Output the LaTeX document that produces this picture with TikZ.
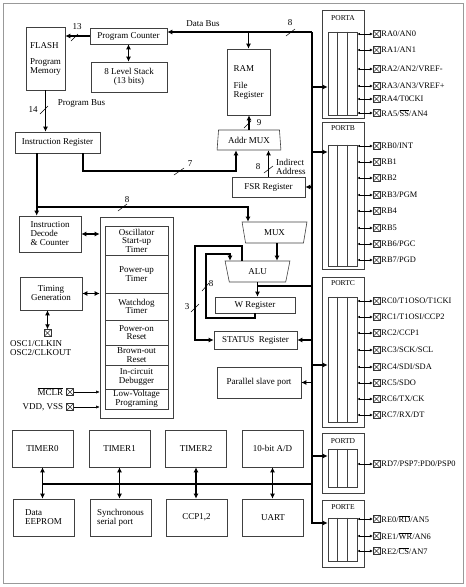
\documentclass[tikz,border=0pt]{standalone}
\usepackage{fontspec}
\setmainfont{Liberation Serif}
\usetikzlibrary{arrows.meta, shapes.geometric}

\tikzset{
    blk/.style={draw=black!75, line width=0.6pt, inner sep=1pt, align=center, font=\fontsize{9}{9}\selectfont},
    timersec/.style={blk, minimum width=63pt, font=\fontsize{9}{8.5}\selectfont},
    periph/.style={blk, minimum width=61pt, minimum height=37pt},
    trap/.style={draw=black!75, line width=0.6pt, trapezium, trapezium stretches=true, inner sep=0pt, font=\fontsize{9}{9}\selectfont},
    portbox/.style={draw=black!75, line width=0.6pt, minimum width=42pt},
    portcol/.style={draw=black!75, line width=0.6pt, minimum width=29pt},
    porttext/.style={inner sep=0pt, font=\fontsize{7.5}{7.5}\selectfont},
    pinbox/.style={draw=black!80, line width=0.5pt, minimum size=7pt, inner sep=0pt,
        path picture={\draw[line width=0.4pt] (path picture bounding box.south west) -- (path picture bounding box.north east)
            (path picture bounding box.north west) -- (path picture bounding box.south east);}},
    pintext/.style={anchor=west, inner sep=1pt, font=\fontsize{8.4}{8.4}\selectfont},
    lbl/.style={inner sep=0pt, font=\fontsize{9}{9}\selectfont},
    bus/.style={line width=1.8pt, -{Latex[length=5pt, width=5pt]}},
    dbus/.style={line width=1.8pt, {Latex[length=5pt, width=5pt]}-{Latex[length=5pt, width=5pt]}},
    busline/.style={line width=1.8pt},
    pinarrow/.style={line width=0.5pt, {Latex[length=2.5pt, width=2.5pt]}-{Latex[length=3pt, width=3pt]}},
    thinarrow/.style={line width=0.5pt, -{Latex[length=3.5pt, width=3pt]}},
    tickmark/.style={line width=0.5pt},
}

\begin{document}
\begin{tikzpicture}[x=1pt, y=-1pt]
        \useasboundingbox (0,0) rectangle (466,587);
        \draw[black!40, line width=0.8pt] (3,3) rectangle (463,583);

        % program memory side
        \node[blk, minimum width=39pt, minimum height=63pt, align=left] (flash) at (45.5,58.5) {FLASH\\[7pt]Program\\Memory};
        \node[blk, minimum width=77pt, minimum height=16pt] (pcount) at (128.5,36) {Program Counter};
        \node[blk, minimum width=76pt, minimum height=30pt] (stack) at (129,77) {8 Level Stack\\(13 bits)};
        \node[blk, minimum width=85pt, minimum height=21pt] (ir) at (57.5,142.5) {Instruction Register};
        \node[blk, minimum width=43pt, minimum height=66pt, align=left] (ram) at (248.5,82) {RAM\\[8pt]File\\Register};
        \node[trap, trapezium left angle=81, trapezium right angle=81, minimum width=64pt, minimum height=20pt] (addrmux) at (249,140) {Addr MUX};
        \node[blk, minimum width=73pt, minimum height=20pt] (fsr) at (268.5,187) {FSR Register};

        \node[blk, minimum width=62pt, minimum height=36pt, align=left] (decode) at (50,234) {Instruction\\Decode\\\& Counter};
        \node[blk, minimum width=62pt, minimum height=33pt] (timing) at (51,293.5) {Timing\\Generation};
        \node[pinbox] (osc) at (47.5,333) {};
        \node[lbl, anchor=north west, align=left] (osct) at (10,340) {OSC1/CLKIN\\OSC2/CLKOUT};
        \node[pinbox] (mclr) at (70,392) {};
        \node[lbl, anchor=east, xshift=-3pt] (mclrt) at (mclr.west) {$\overline{\mbox{MCLR}}$};
        \node[pinbox] (vdd) at (70,407) {};
        \node[lbl, anchor=east, xshift=-3pt] (vddt) at (vdd.west) {VDD, VSS};

        % timers and resets
        \node[blk, minimum width=73pt, minimum height=201pt] (timers) at (136.5,317.5) {};
        \node[timersec, minimum height=29pt] (ost) at (136.5,240.5) {Oscillator\\Start-up\\Timer};
        \node[timersec, minimum height=38pt] (pwrt) at (136.5,274) {Power-up\\Timer};
        \node[timersec, minimum height=27pt] (wdt) at (136.5,306.5) {Watchdog\\Timer};
        \node[timersec, minimum height=25pt] (por) at (136.5,332.5) {Power-on\\Reset};
        \node[timersec, minimum height=20pt] (bor) at (136.5,355) {Brown-out\\Reset};
        \node[timersec, minimum height=24pt] (icd) at (136.5,377) {In-circuit\\Debugger};
        \node[timersec, minimum height=20pt] (lvp) at (136.5,399) {Low-Voltage\\Programing};

        % alu side
        \node[trap, trapezium left angle=102, trapezium right angle=102, minimum width=65pt, minimum height=21pt] (mux) at (274.5,232.5) {MUX};
        \node[trap, trapezium left angle=103, trapezium right angle=103, minimum width=65pt, minimum height=21pt] (alu) at (257.5,271.5) {ALU};
        \node[blk, minimum width=80pt, minimum height=16pt] (wreg) at (255,305) {W Register};
        \node[blk, minimum width=83pt, minimum height=18pt] (status) at (255.5,340) {STATUS\enspace Register};
        \node[blk, minimum width=84pt, minimum height=31pt] (psp) at (259,382.5) {Parallel slave port};

        % peripherals
        \node[periph] (tmr0) at (42.5,448.5) {TIMER0};
        \node[periph] (tmr1) at (119.5,448.5) {TIMER1};
        \node[periph] (tmr2) at (196,448.5) {TIMER2};
        \node[periph] (adc) at (272.5,448.5) {10-bit A/D};
        \node[periph, align=left] (eeprom) at (43.5,517.5) {Data\\EEPROM};
        \node[periph, align=left] (ssp) at (120.5,517.5) {Synchronous\\serial port};
        \node[periph] (ccp) at (196.5,517.5) {CCP1,2};
        \node[periph] (uart) at (273,517.5) {UART};

        % ports
        \node[portbox, minimum height=108pt] (paout) at (343,64) {};
        \node[portbox, minimum height=147pt] (pbout) at (343,195.5) {};
        \node[portbox, minimum height=150pt] (pcout) at (343,352) {};
        \node[portbox, minimum height=60pt] (pdout) at (343,463) {};
        \node[portbox, minimum height=67pt] (peout) at (343,533.5) {};
        \node[porttext] (palbl) at ([yshift=-8pt]paout.north) {PORTA};
        \node[porttext] (pblbl) at ([yshift=-6pt]pbout.north) {PORTB};
        \node[porttext] (pclbl) at ([yshift=-6pt]pcout.north) {PORTC};
        \node[porttext] (pdlbl) at ([yshift=-8pt]pdout.north) {PORTD};
        \node[porttext] (pelbl) at ([yshift=-7pt]peout.north) {PORTE};
        \node[portcol, minimum height=83pt] (pta) at (342.5,73.5) {};
        \node[portcol, minimum height=121pt] (ptb) at (342.5,205.5) {};
        \node[portcol, minimum height=125pt] (ptc) at (342.5,359.5) {};
        \node[portcol, minimum height=38pt] (ptd) at (342.5,468) {};
        \node[portcol, minimum height=43pt] (pte) at (342.5,539.5) {};

        \node[pinbox] (ra0) at (376.5,34) {};
        \node[pinbox] (ra1) at (376.5,50) {};
        \node[pinbox] (ra2) at (376.5,69) {};
        \node[pinbox] (ra3) at (376.5,86) {};
        \node[pinbox] (ra4) at (376.5,99) {};
        \node[pinbox] (ra5) at (376.5,113) {};
        \node[pintext] (ra0t) at (ra0.east) {RA0/AN0};
        \node[pintext] (ra1t) at (ra1.east) {RA1/AN1};
        \node[pintext] (ra2t) at (ra2.east) {RA2/AN2/VREF-};
        \node[pintext] (ra3t) at (ra3.east) {RA3/AN3/VREF+};
        \node[pintext] (ra4t) at (ra4.east) {RA4/T0CKI};
        \node[pintext] (ra5t) at (ra5.east) {RA5/$\overline{\mbox{SS}}$/AN4};

        \node[pinbox] (rb0) at (376.5,146) {};
        \node[pinbox] (rb1) at (376.5,162) {};
        \node[pinbox] (rb2) at (376.5,178) {};
        \node[pinbox] (rb3) at (376.5,195) {};
        \node[pinbox] (rb4) at (376.5,211) {};
        \node[pinbox] (rb5) at (376.5,228) {};
        \node[pinbox] (rb6) at (376.5,244) {};
        \node[pinbox] (rb7) at (376.5,260) {};
        \node[pintext] (rb0t) at (rb0.east) {RB0/INT};
        \node[pintext] (rb1t) at (rb1.east) {RB1};
        \node[pintext] (rb2t) at (rb2.east) {RB2};
        \node[pintext] (rb3t) at (rb3.east) {RB3/PGM};
        \node[pintext] (rb4t) at (rb4.east) {RB4};
        \node[pintext] (rb5t) at (rb5.east) {RB5};
        \node[pintext] (rb6t) at (rb6.east) {RB6/PGC};
        \node[pintext] (rb7t) at (rb7.east) {RB7/PGD};

        \node[pinbox] (rc0) at (376.5,301) {};
        \node[pinbox] (rc1) at (376.5,317) {};
        \node[pinbox] (rc2) at (376.5,333) {};
        \node[pinbox] (rc3) at (376.5,350) {};
        \node[pinbox] (rc4) at (376.5,367) {};
        \node[pinbox] (rc5) at (376.5,383) {};
        \node[pinbox] (rc6) at (376.5,399) {};
        \node[pinbox] (rc7) at (376.5,415) {};
        \node[pintext] (rc0t) at (rc0.east) {RC0/T1OSO/T1CKI};
        \node[pintext] (rc1t) at (rc1.east) {RC1/T1OSI/CCP2};
        \node[pintext] (rc2t) at (rc2.east) {RC2/CCP1};
        \node[pintext] (rc3t) at (rc3.east) {RC3/SCK/SCL};
        \node[pintext] (rc4t) at (rc4.east) {RC4/SDI/SDA};
        \node[pintext] (rc5t) at (rc5.east) {RC5/SDO};
        \node[pintext] (rc6t) at (rc6.east) {RC6/TX/CK};
        \node[pintext] (rc7t) at (rc7.east) {RC7/RX/DT};

        \node[pinbox] (rd) at (376.5,464) {};
        \node[pintext] (rdt) at (rd.east) {RD7/PSP7:PD0/PSP0};

        \node[pinbox] (re0) at (376.5,519) {};
        \node[pinbox] (re1) at (376.5,536) {};
        \node[pinbox] (re2) at (376.5,551) {};
        \node[pintext] (re0t) at (re0.east) {RE0/$\overline{\mbox{RD}}$/AN5};
        \node[pintext] (re1t) at (re1.east) {RE1/$\overline{\mbox{WR}}$/AN6};
        \node[pintext] (re2t) at (re2.east) {RE2/$\overline{\mbox{CS}}$/AN7};

        % port columns
        \draw[black!75, line width=0.6pt] ([xshift=10pt]pta.north west) -- ([xshift=10pt]pta.south west);
        \draw[black!75, line width=0.6pt] ([xshift=-10pt]pta.north east) -- ([xshift=-10pt]pta.south east);
        \draw[black!75, line width=0.6pt] ([xshift=10pt]ptb.north west) -- ([xshift=10pt]ptb.south west);
        \draw[black!75, line width=0.6pt] ([xshift=-10pt]ptb.north east) -- ([xshift=-10pt]ptb.south east);
        \draw[black!75, line width=0.6pt] ([xshift=10pt]ptc.north west) -- ([xshift=10pt]ptc.south west);
        \draw[black!75, line width=0.6pt] ([xshift=-10pt]ptc.north east) -- ([xshift=-10pt]ptc.south east);
        \draw[black!75, line width=0.6pt] ([xshift=10pt]ptd.north west) -- ([xshift=10pt]ptd.south west);
        \draw[black!75, line width=0.6pt] ([xshift=-10pt]ptd.north east) -- ([xshift=-10pt]ptd.south east);
        \draw[black!75, line width=0.6pt] ([xshift=10pt]pte.north west) -- ([xshift=10pt]pte.south west);
        \draw[black!75, line width=0.6pt] ([xshift=-10pt]pte.north east) -- ([xshift=-10pt]pte.south east);

        % data bus
        \coordinate (busTop) at (312,32);
        \coordinate (paIn) at ([yshift=-13.5pt]pta.west);
        \coordinate (pbIn) at ([yshift=53.5pt]ptb.west);
        \coordinate (pcIn) at ([yshift=-5.5pt]ptc.west);
        \coordinate (pdIn) at ([yshift=12pt]ptd.west);
        \coordinate (peIn) at ([yshift=16.5pt]pte.west);
        \draw[bus] (busTop) |- (peIn);
        \draw[bus] (busTop) -- (busTop -| pcount.east);
        \draw[bus] (busTop -| ram.north) -- (ram.north);
        \draw[bus] (paIn -| busTop) -- (paIn);
        \draw[bus] (pbIn -| busTop) -- (pbIn);
        \draw[bus] (pcIn -| busTop) -- (pcIn);
        \draw[bus] (pdIn -| busTop) -- (pdIn);
        \draw[bus] (fsr.east -| busTop) -- (fsr.east);
        \draw[bus] (status.east -| busTop) -- (status.east);
        \draw[bus] (psp.east -| busTop) -- (psp.east);

        % program path
        \draw[bus] (pcount.west) -- (pcount.west -| flash.east);
        \draw[dbus] (pcount.south) -- (pcount.south |- stack.north);
        \draw[bus] (flash.south) -- (flash.south |- ir.north);
        \draw[bus] (addrmux.north) -- (addrmux.north |- ram.south);
        \coordinate (irOut) at ([xshift=-17pt]ir.south east);
        \coordinate (addrIn) at ([xshift=-13pt]addrmux.south);
        \draw[bus] (irOut) -- ++(0,18) -| (addrIn);
        \draw[bus] (fsr.north) -- (fsr.north |- addrmux.south);
        \coordinate (irDec) at ([xshift=22pt]ir.south west);
        \draw[bus] (irDec) -- (irDec |- decode.north);
        \coordinate (j8) at (37,207);
        \coordinate (muxIn) at ([xshift=-26.5pt]mux.north);
        \draw[bus] (j8) -| (muxIn);

        % control
        \draw[dbus] (decode.east) -- (decode.east -| timers.west);
        \draw[dbus] (timing.east) -- (timing.east -| timers.west);
        \draw[dbus] (osc.north |- timing.south) -- (osc.north);
        \draw[thinarrow] (mclr.east) -- (mclr.east -| timers.west);
        \draw[thinarrow] (vdd.east) -- (vdd.east -| timers.west);

        % alu paths
        \coordinate (muxOut) at ([xshift=2.5pt]mux.south);
        \draw[bus] (muxOut) -- (muxOut |- alu.north);
        \draw[bus] (alu.south) -- (alu.south |- wreg.north);
        \coordinate (aluOut) at ([yshift=-4pt]alu.south);
        \draw[busline] (aluOut) -- (aluOut -| busTop);
        \coordinate (aluIn) at ([xshift=-27.5pt]alu.north);
        \draw[bus] (wreg.south) -- ++(0,5) -| (206,254) -| (aluIn);
        \coordinate (aluSt) at ([xshift=-15.5pt]alu.north);
        \draw[bus] (aluSt) -- ++(0,-15) -| (195,340) -- (status.west);

        % peripheral bus
        \coordinate (perBus) at (42.5,484);
        \draw[busline] (perBus) -- (perBus -| busTop);
        \draw[dbus] (tmr0.south) -- (tmr0.south |- eeprom.north);
        \draw[dbus] (tmr1.south) -- (tmr1.south |- ssp.north);
        \draw[dbus] (tmr2.south) -- (tmr2.south |- ccp.north);
        \draw[dbus] (adc.south) -- (adc.south |- uart.north);

        % pins
        \draw[pinarrow] (ra0 -| pta.east) -- (ra0);
        \draw[pinarrow] (ra1 -| pta.east) -- (ra1);
        \draw[pinarrow] (ra2 -| pta.east) -- (ra2);
        \draw[pinarrow] (ra3 -| pta.east) -- (ra3);
        \draw[pinarrow] (ra4 -| pta.east) -- (ra4);
        \draw[pinarrow] (ra5 -| pta.east) -- (ra5);
        \draw[pinarrow] (rb0 -| ptb.east) -- (rb0);
        \draw[pinarrow] (rb1 -| ptb.east) -- (rb1);
        \draw[pinarrow] (rb2 -| ptb.east) -- (rb2);
        \draw[pinarrow] (rb3 -| ptb.east) -- (rb3);
        \draw[pinarrow] (rb4 -| ptb.east) -- (rb4);
        \draw[pinarrow] (rb5 -| ptb.east) -- (rb5);
        \draw[pinarrow] (rb6 -| ptb.east) -- (rb6);
        \draw[pinarrow] (rb7 -| ptb.east) -- (rb7);
        \draw[pinarrow] (rc0 -| ptc.east) -- (rc0);
        \draw[pinarrow] (rc1 -| ptc.east) -- (rc1);
        \draw[pinarrow] (rc2 -| ptc.east) -- (rc2);
        \draw[pinarrow] (rc3 -| ptc.east) -- (rc3);
        \draw[pinarrow] (rc4 -| ptc.east) -- (rc4);
        \draw[pinarrow] (rc5 -| ptc.east) -- (rc5);
        \draw[pinarrow] (rc6 -| ptc.east) -- (rc6);
        \draw[pinarrow] (rc7 -| ptc.east) -- (rc7);
        \draw[pinarrow] (rd -| ptd.east) -- (rd);
        \draw[pinarrow] (re0 -| pte.east) -- (re0);
        \draw[pinarrow] (re1 -| pte.east) -- (re1);
        \draw[pinarrow] (re2 -| pte.east) -- (re2);

        % bus labels
        \node[lbl] (dbuslbl) at (203,24) {Data Bus};
        \node[lbl] (w8a) at (290,23) {8};
        \draw[tickmark] (286,36) -- (295,29);
        \node[lbl] (w13) at (77,27) {13};
        \draw[tickmark] (71,41) -- (78,34);
        \node[lbl] (w14) at (33,110) {14};
        \draw[tickmark] (40,114) -- (48,106);
        \node[lbl] (pbuslbl) at (81.5,104) {Program Bus};
        \node[lbl] (w9) at (259,123) {9};
        \draw[tickmark] (244,128) -- (251,121);
        \node[lbl] (w7) at (190,164) {7};
        \draw[tickmark] (174,175) -- (184,168);
        \node[lbl] (w8b) at (258,167) {8};
        \draw[tickmark] (264,173) -- (273,166);
        \node[lbl, anchor=west, align=left] (indlbl) at (276,167) {Indirect\\Address};
        \node[lbl] (w8c) at (127,200) {8};
        \draw[tickmark] (118,211) -- (127,204);
        \node[lbl] (w8d) at (211,284) {8};
        \draw[tickmark] (202,291) -- (209,283);
        \node[lbl] (w3) at (187,307) {3};
        \draw[tickmark] (191,312) -- (199,304);
    \end{tikzpicture}
\end{document}
